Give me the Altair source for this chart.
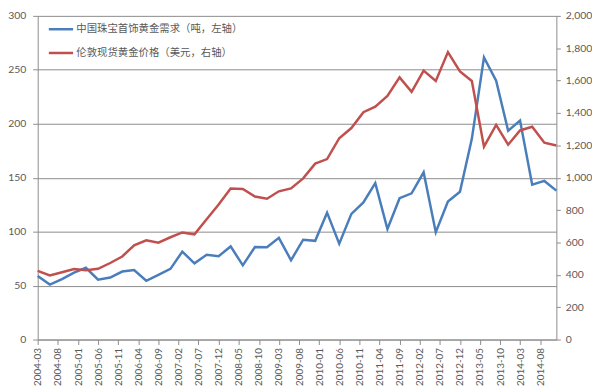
import altair as alt
import pandas as pd

# Quarter-end months, 2004Q1 .. 2014Q4
quarters = [f"{y}-{m:02d}-01" for y in range(2004, 2015) for m in (3, 6, 9, 12)]

# China jewellery gold demand (tonnes, left axis)
demand = [59, 51, 56, 62, 66.5, 55.5, 57.5, 63, 64.5, 54.5,
          60, 65.5, 81.5, 70.6, 78.5, 77.3, 86.3, 68.8, 85.8, 85.5,
          94.3, 73.5, 92.5, 91.5, 117.6, 88.8, 116.5, 127, 145, 102.4,
          131, 135.5, 155, 99.5, 128, 137, 186, 261.5, 240, 193.5,
          203, 143.5, 147, 138]

# London spot gold price (USD, right axis)
price = [424, 396, 416, 436, 428, 437, 473, 513, 582, 613,
         599, 632, 662, 650, 743, 834, 933, 930, 884, 870,
         916, 934, 996, 1087, 1115, 1244, 1307, 1405, 1439, 1505,
         1620, 1531, 1662, 1598, 1776, 1657, 1598, 1192, 1326, 1204,
         1292, 1315, 1216, 1199]

series_names = ["中国珠宝首饰黄金需求（吨，左轴）", "伦敦现货黄金价格（美元，右轴）"]
series_colors = ["#4A7EBB", "#C0504D"]

left_ticks = [0, 50, 100, 150, 200, 250, 300]
right_ticks = [0, 200, 400, 600, 800, 1000, 1200, 1400, 1600, 1800, 2000]

# x tick labels every 5 months from 2004-03 to 2014-08
label_months = []
y0, m0 = 2004, 3
for i in range(26):
    tot = (m0 - 1) + 5 * i
    label_months.append((y0 + tot // 12, tot % 12 + 1))

df = pd.concat([
    pd.DataFrame({"date": quarters, "value": demand, "series": series_names[0]}),
    pd.DataFrame({"date": quarters, "value": price, "series": series_names[1]}),
])

FONT = "Lato"
TXT = "#595959"
GRID = "#8C8C8C"

x_enc = alt.X(
    "date:T",
    scale=alt.Scale(type="utc",
                    domain=[alt.DateTime(year=2004, month=3, date=1, utc=True),
                            alt.DateTime(year=2014, month=12, date=1, utc=True)]),
    axis=alt.Axis(
        values=[alt.DateTime(year=y, month=m, date=1, utc=True) for y, m in label_months],
        labelExpr="utcFormat(datum.value, '%Y-%m')", labelAngle=270, title=None,
        grid=False, domainColor=GRID, tickColor=GRID, tickSize=5,
        labelPadding=3, labelFontSize=10, labelColor=TXT, labelFont=FONT,
        labelOverlap=False, labelFlush=False,
    ),
)

color_enc = alt.Color(
    "series:N",
    scale=alt.Scale(domain=series_names, range=series_colors),
    legend=alt.Legend(
        orient="none", legendX=10, legendY=0, title=None,
        symbolType="stroke", symbolSize=600, symbolStrokeWidth=2.5,
        labelFont="Noto Sans CJK SC", labelFontSize=10.5, labelColor=TXT,
        labelOffset=2, rowPadding=5, padding=0, labelLimit=400,
    ),
)

base = alt.Chart(df)

blue = base.transform_filter(alt.datum.series == series_names[0]).mark_line(
    strokeWidth=2.5
).encode(
    x=x_enc,
    y=alt.Y("value:Q", scale=alt.Scale(domain=[0, 300], nice=False),
            axis=alt.Axis(values=left_ticks, orient="left", title=None,
                          grid=True, gridColor=GRID, gridWidth=1,
                          domainColor=GRID, tickColor=GRID, tickSize=5,
                          labelPadding=7, labelFontSize=10.5, labelColor=TXT,
                          labelFont=FONT)),
    color=color_enc,
)

red = base.transform_filter(alt.datum.series == series_names[1]).mark_line(
    strokeWidth=2.5
).encode(
    x=x_enc,
    y=alt.Y("value:Q", scale=alt.Scale(domain=[0, 2000], nice=False),
            axis=alt.Axis(values=right_ticks, orient="right", title=None,
                          labelExpr="format(datum.value, ',')", grid=False,
                          domainColor=GRID, tickColor=GRID, tickSize=4,
                          labelPadding=5, labelFontSize=10.5, labelColor=TXT,
                          labelFont=FONT)),
    color=color_enc,
)

chart = alt.layer(blue, red).resolve_scale(y="independent").properties(
    width=524, height=327,
    autosize=alt.AutoSizeParams(type="none"),
    padding={"left": 30, "top": 6, "right": 36, "bottom": 46},
    background="white",
).configure_view(stroke=None)

chart.save("out.html", embed_options={"renderer": "svg", "actions": False})
